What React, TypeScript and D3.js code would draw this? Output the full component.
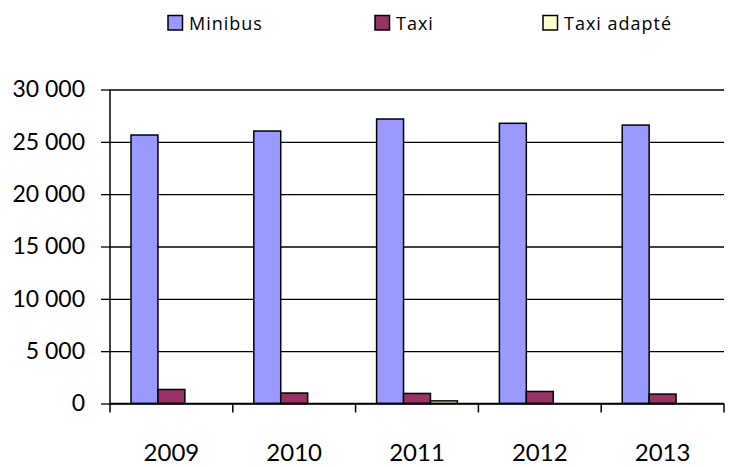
import React, { useEffect, useRef } from 'react';
import * as d3 from 'd3';

const years = ['2009', '2010', '2011', '2012', '2013'];
const seriesNames = ['Minibus', 'Taxi', 'Taxi adapté'];
const minibus = [25650, 26030, 27180, 26770, 26600];
const taxi = [1340, 1000, 960, 1150, 900];
const taxiAdapte = [0, 0, 250, 0, 0];
const yTicks = [0, 5000, 10000, 15000, 20000, 25000, 30000];
const colors = ['#9999FF', '#993366', '#FFFFCC'];

const App: React.FC = () => {
  const svgRef = useRef<SVGSVGElement | null>(null);

  useEffect(() => {
    if (!svgRef.current) return;
    const plot = { left: 110, right: 724, top: 89.5, bottom: 403.5 };

    const svg = d3.select(svgRef.current);
    svg.selectAll('*').remove();

    const x0 = d3.scaleBand().domain(years).range([plot.left, plot.right]);
    // bars sit in the middle of each category with ~21px gap each side
    const x1 = d3
      .scaleBand()
      .domain(seriesNames)
      .range([21, x0.bandwidth() - 21]);
    const y = d3.scaleLinear().domain([0, 30000]).range([plot.bottom, plot.top]);

    // grid lines
    svg
      .append('g')
      .attr('transform', `translate(${plot.left},0)`)
      .call(
        d3
          .axisLeft(y)
          .tickValues(yTicks)
          .tickSize(-(plot.right - plot.left))
          .tickFormat(() => '')
      )
      .call((g) => g.select('.domain').remove())
      .selectAll('line')
      .attr('stroke', '#000')
      .attr('stroke-width', 1.3);

    const values = [minibus, taxi, taxiAdapte];
    years.forEach((yr, i) => {
      seriesNames.forEach((s, j) => {
        const v = values[j][i];
        svg
          .append('rect')
          .attr('x', (x0(yr) as number) + (x1(s) as number))
          .attr('y', y(v))
          .attr('width', x1.bandwidth())
          .attr('height', y(0) - y(v))
          .attr('fill', colors[j])
          .attr('stroke', '#000')
          .attr('stroke-width', 1.5);
      });
    });

    // y axis
    const yAxis = svg
      .append('g')
      .attr('transform', `translate(${plot.left},0)`)
      .call(
        d3
          .axisLeft(y)
          .tickValues(yTicks)
          .tickSize(9)
          .tickPadding(16)
          .tickFormat((d) => d3.format(',')(d as number).replace(/,/g, ' '))
      );
    yAxis.select('.domain').attr('stroke', '#000').attr('stroke-width', 1.5).attr('d', `M0,${plot.top}V${plot.bottom}`);
    yAxis.selectAll('line').attr('stroke', '#000').attr('stroke-width', 1.3);
    yAxis
      .selectAll('text')
      .attr('fill', '#000')
      .attr('font-family', 'Lato, "Open Sans", sans-serif')
      .attr('font-size', '23px');

    // x axis
    const xTickPos = [plot.left, ...years.map((yr) => (x0(yr) as number) + x0.bandwidth())];
    const xAxis = svg.append('g');
    xAxis
      .append('line')
      .attr('x1', plot.left)
      .attr('x2', plot.right)
      .attr('y1', y(0))
      .attr('y2', y(0))
      .attr('stroke', '#000')
      .attr('stroke-width', 1.5);
    xAxis
      .selectAll('line.tick')
      .data(xTickPos)
      .enter()
      .append('line')
      .attr('class', 'tick')
      .attr('x1', (d) => d)
      .attr('x2', (d) => d)
      .attr('y1', y(0))
      .attr('y2', y(0) + 9)
      .attr('stroke', '#000')
      .attr('stroke-width', 1.5);
    xAxis
      .selectAll('text')
      .data(years)
      .enter()
      .append('text')
      .attr('x', (d) => (x0(d) as number) + x0.bandwidth() / 2)
      .attr('y', 461)
      .attr('text-anchor', 'middle')
      .attr('font-family', 'Lato, "Open Sans", sans-serif')
      .attr('font-size', '24px')
      .attr('fill', '#000')
      .text((d) => d);

    // legend
    const legendX = [168, 375, 543];
    const legend = svg.append('g');
    seriesNames.forEach((s, j) => {
      legend
        .append('rect')
        .attr('x', legendX[j])
        .attr('y', 15.5)
        .attr('width', 14.5)
        .attr('height', 14.5)
        .attr('fill', colors[j])
        .attr('stroke', '#000')
        .attr('stroke-width', 1.5);
      legend
        .append('text')
        .attr('x', legendX[j] + 21)
        .attr('y', 29.5)
        .attr('font-family', '"Open Sans", sans-serif')
        .attr('font-size', '18px')
        .attr('letter-spacing', '1px')
        .attr('fill', '#000')
        .text(s);
    });
  }, []);

  return (
    <svg
      ref={svgRef}
      width={737}
      height={467}
      style={{ position: 'absolute', left: 0, top: 0, background: '#fff' }}
    />
  );
};

export default App;
